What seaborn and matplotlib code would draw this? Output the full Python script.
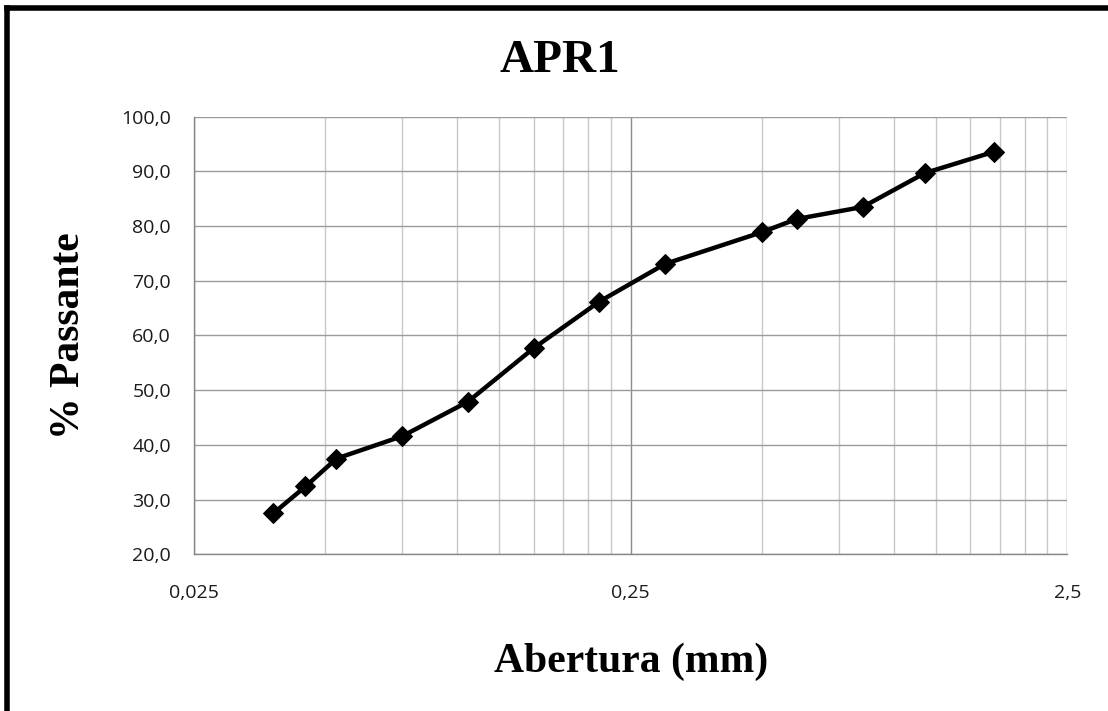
import numpy as np
import pandas as pd
import matplotlib
matplotlib.use("Agg")
import matplotlib.pyplot as plt
import seaborn as sns
from matplotlib.ticker import FixedLocator, NullFormatter, FuncFormatter

# Sieve openings (mm) and cumulative percent passing
abertura_mm = [0.038, 0.045, 0.053, 0.075, 0.106, 0.150, 0.212, 0.300,
               0.500, 0.600, 0.850, 1.180, 1.700]
passante_pct = [27.5, 32.4, 37.5, 41.6, 47.9, 57.7, 66.2, 73.1,
                78.9, 81.3, 83.5, 89.7, 93.6]

x_major = [0.025, 0.25, 2.5]
y_ticks = [20, 30, 40, 50, 60, 70, 80, 90, 100]

sns.set_theme(style="white")
plt.rcParams["font.family"] = ["Open Sans", "DejaVu Sans"]

df = pd.DataFrame({"abertura": abertura_mm, "passante": passante_pct})

fig = plt.figure(figsize=(11.08, 7.11), dpi=100)
ax = fig.add_axes([194 / 1108, 1 - 554.3 / 711, (1067.3 - 194) / 1108, (554.3 - 116.7) / 711])

ax.set_xscale("log")
ax.set_xlim(0.025, 2.5)
ax.set_ylim(20, 100)

# Grid: minor lines at 2..9 times each decade start
minor = [m * k for m in x_major[:-1] for k in range(2, 10)]
ax.xaxis.set_major_locator(FixedLocator(x_major))
ax.xaxis.set_minor_locator(FixedLocator(minor))
ax.xaxis.set_minor_formatter(NullFormatter())
ax.xaxis.set_major_formatter(FuncFormatter(lambda v, p: f"{v:g}".replace(".", ",")))
ax.yaxis.set_major_locator(FixedLocator(y_ticks))
ax.yaxis.set_major_formatter(FuncFormatter(lambda v, p: f"{v:.1f}".replace(".", ",")))

ax.grid(which="minor", axis="x", color="#c8c8c8", linewidth=1.0)
ax.grid(which="major", axis="x", color="#8c8c8c", linewidth=1.0)
ax.grid(which="major", axis="y", color="#9a9a9a", linewidth=1.0)
ax.set_axisbelow(True)

for side in ["top", "right"]:
    ax.spines[side].set_visible(False)
for side in ["left", "bottom"]:
    ax.spines[side].set_color("#868686")
    ax.spines[side].set_linewidth(1.0)

ax.tick_params(axis="both", which="major", direction="out", length=5.5, width=1.0,
               color="#868686", labelsize=14, labelcolor="#1a1a1a")
ax.tick_params(axis="y", which="major", pad=11)
ax.tick_params(axis="x", which="major", pad=16)
ax.tick_params(axis="x", which="minor", length=0)

sns.lineplot(data=df, x="abertura", y="passante", ax=ax, color="black",
             linewidth=3.2, marker="D", markersize=10.5, markeredgecolor="black",
             markerfacecolor="black", legend=False, zorder=5, clip_on=False)

ax.set_xlabel("")
ax.set_ylabel("")

serif = ["Liberation Serif", "DejaVu Serif"]
fig.text(559.5 / 1108, 1 - 61 / 711, "APR1", ha="center", va="center",
         fontsize=34, fontweight="bold", family=serif, color="black")
fig.text(631 / 1108, 1 - 662 / 711, "Abertura (mm)", ha="center", va="center",
         fontsize=30, fontweight="bold", family=serif, color="black")
fig.text(69 / 1108, 1 - 335.5 / 711, "% Passante", ha="center", va="center",
         rotation=90, fontsize=30, fontweight="bold", family=serif, color="black")

# Frame lines along the top and left edges of the figure
fig.add_artist(plt.Line2D([6.5 / 1108, 6.5 / 1108], [0, 1 - 7.5 / 711],
                          transform=fig.transFigure, color="black", linewidth=4.0,
                          solid_capstyle="projecting"))
fig.add_artist(plt.Line2D([6.5 / 1108, 1], [1 - 7.5 / 711, 1 - 7.5 / 711],
                          transform=fig.transFigure, color="black", linewidth=4.0,
                          solid_capstyle="projecting"))

fig.savefig("out.png", dpi=100, facecolor="white")
